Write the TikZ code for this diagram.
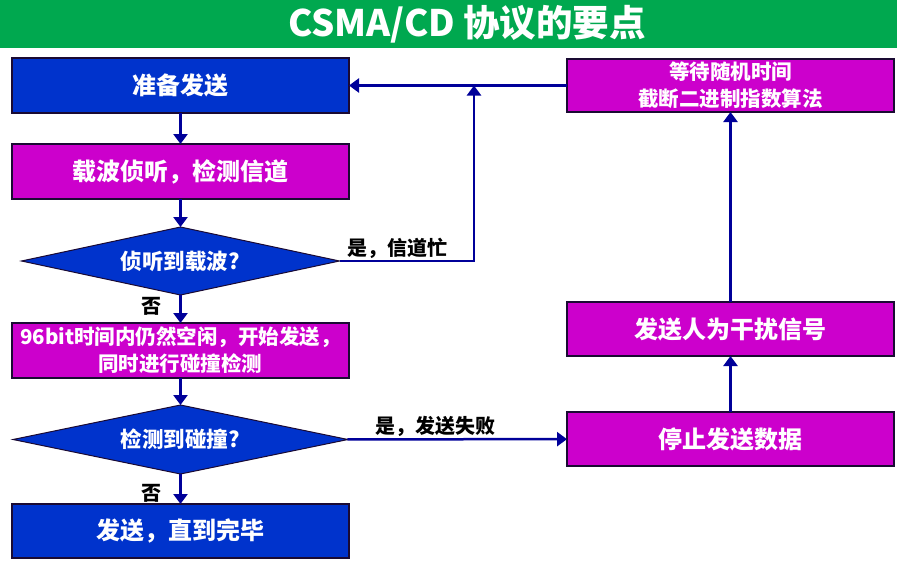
\documentclass[tikz,border=0pt]{standalone}
\usepackage{fontspec}
\setmainfont{Noto Sans CJK SC}[BoldFont={Noto Sans CJK SC Black}]
\usepackage{tikz}
\usetikzlibrary{arrows.meta,positioning,shapes.geometric}
\definecolor{titlegreen}{HTML}{00A84F}
\definecolor{flowblue}{HTML}{0033CC}
\definecolor{flowpink}{HTML}{CC00CC}
\definecolor{navy}{HTML}{000099}
\definecolor{edge}{HTML}{1A0A33}

\begin{document}
\begin{tikzpicture}[
  x=1pt, y=1pt,
  box/.style={draw=edge, line width=1.2pt, text=white, align=center, inner sep=0pt, outer sep=0pt, font=\bfseries\fontsize{24}{28}\selectfont},
  bluebox/.style={box, fill=flowblue, minimum width=337pt, minimum height=55pt},
  pinkbox/.style={box, fill=flowpink, minimum width=337pt, minimum height=55pt},
  sidebox/.style={box, fill=flowpink, minimum width=327pt, minimum height=54pt},
  twoline/.style={font=\bfseries\fontsize{20.5}{27}\selectfont},
  decision/.style={diamond, draw=edge, line width=1pt, fill=flowblue, text=white, inner sep=0pt, outer sep=0pt, aspect=4.8, font=\bfseries\fontsize{21.5}{26}\selectfont},
  arrow/.style={-{Triangle[length=10pt,width=14pt]}, line width=2.5pt, draw=navy},
  lbl/.style={font=\bfseries\fontsize{20}{24}\selectfont, text=black, inner sep=1.5pt}
]
\useasboundingbox (0,0) rectangle (897,-560);
\fill[titlegreen] (0,0) rectangle (897,-48);
\node[text=white, font=\bfseries\fontsize{36.5}{40}\selectfont] (title) at (467,-24) {CSMA/CD 协议的要点};

\node[bluebox] (prep) at (180.5,-85.5) {准备发送};
\node[pinkbox, below=31pt of prep] (sense) {载波侦听，检测信道};
\node[decision, minimum width=318pt, minimum height=68pt, below=28pt of sense] (busy) {侦听到载波?};
\node[pinkbox, twoline, below=28pt of busy] (work) {96bit时间内仍然空闲，开始发送，\\同时进行碰撞检测};
\node[decision, minimum width=335pt, minimum height=69pt, below=27pt of work] (collide) {检测到碰撞?};
\node[bluebox, minimum height=54pt, below=30pt of collide] (done) {发送，直到完毕};

\node[sidebox, twoline, minimum height=53pt, right=218pt of prep] (wait) {等待随机时间\\截断二进制指数算法};
\node[sidebox] (jam) at (730.5,-329) {发送人为干扰信号};
\node[sidebox, below=56pt of jam] (stop) {停止发送数据};
\coordinate (join) at (474,-85.5);

\draw[arrow] (prep) -- (sense);
\draw[arrow] (sense) -- (busy);
\draw[arrow] (busy) -- node[lbl, left=16pt, pos=0.4]{否} (work);
\draw[arrow] (work) -- (collide);
\draw[arrow] (collide) -- node[lbl, left=16pt, pos=0.63]{否} (done);
\draw[arrow] (busy.east) -- node[lbl, above, pos=0.43]{是，信道忙} (busy.east -| join) -- (join);
\draw[arrow] (wait) -- (prep);
\draw[arrow] (collide) -- node[lbl, above, pos=0.4]{是，发送失败} (stop);
\draw[arrow] (stop) -- (jam);
\draw[arrow] (jam) -- (wait);
\end{tikzpicture}
\end{document}
